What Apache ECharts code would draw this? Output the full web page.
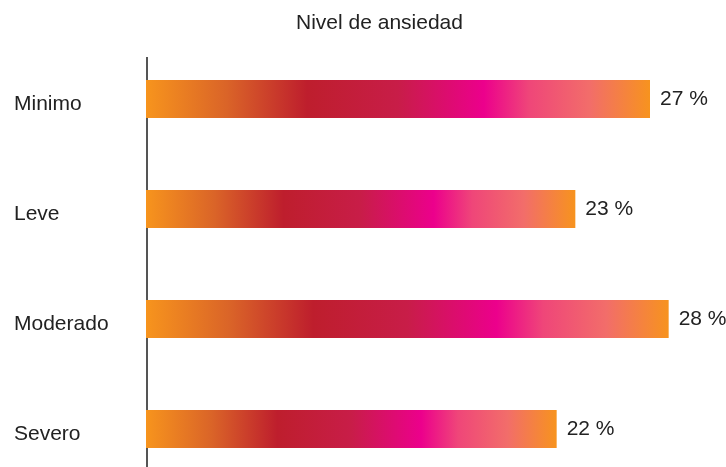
<!DOCTYPE html>
<html>
<head>
<meta charset="utf-8">
<script src="https://cdn.jsdelivr.net/npm/echarts@6/dist/echarts.min.js"></script>
<style>
  html, body { margin: 0; padding: 0; background: #fff; }
  #chart { width: 726px; height: 467px; }
</style>
</head>
<body>
<div id="chart"></div>
<script>
const categories = ["Minimo", "Leve", "Moderado", "Severo"];
const values = [27, 23, 28, 22];
const chartTitle = "Nivel de ansiedad";

const dom = document.getElementById("chart");
const chart = echarts.init(dom);

const barGradient = new echarts.graphic.LinearGradient(0, 0, 1, 0, [
    { offset: 0, color: "#f7941d" },
    { offset: 0.16, color: "#da6428" },
    { offset: 0.32, color: "#be1e2d" },
    { offset: 0.5, color: "#c81d48" },
    { offset: 0.67, color: "#ec008c" },
    { offset: 0.76, color: "#ef4679" },
    { offset: 0.88, color: "#f26d6a" },
    { offset: 1, color: "#f7931e" }
]);

chart.setOption({
    animation: false,
    title: {
        text: chartTitle,
        left: 291,
        top: 8,
        textStyle: {
            fontFamily: "Liberation Sans",
            fontWeight: "normal",
            fontSize: 21,
            color: "#222"
        }
    },
    grid: {
        left: 146,
        right: 20,
        top: 99,
        bottom: 38
    },
    xAxis: {
        type: "value",
        min: 0,
        max: 30,
        show: false
    },
    yAxis: {
        type: "category",
        inverse: true,
        boundaryGap: false,
        data: categories,
        axisLine: { show: false },
        axisTick: { show: false },
        splitLine: { show: false },
        axisLabel: {
            align: "left",
            verticalAlign: "top",
            lineHeight: 10,
            margin: 132,
            fontFamily: "Liberation Sans",
            fontSize: 21,
            color: "#222"
        }
    },
    graphic: [
        {
            type: "line",
            shape: { x1: 147, y1: 57, x2: 147, y2: 467 },
            style: { stroke: "#555", lineWidth: 2 }
        }
    ],
    series: [
        {
            type: "bar",
            data: values,
            barWidth: 38,
            itemStyle: { color: barGradient },
            label: {
                show: true,
                position: "right",
                distance: 10,
                formatter: "{c} %",
                fontFamily: "Liberation Sans",
                fontSize: 21,
                color: "#222"
            }
        }
    ]
});
</script>
</body>
</html>
